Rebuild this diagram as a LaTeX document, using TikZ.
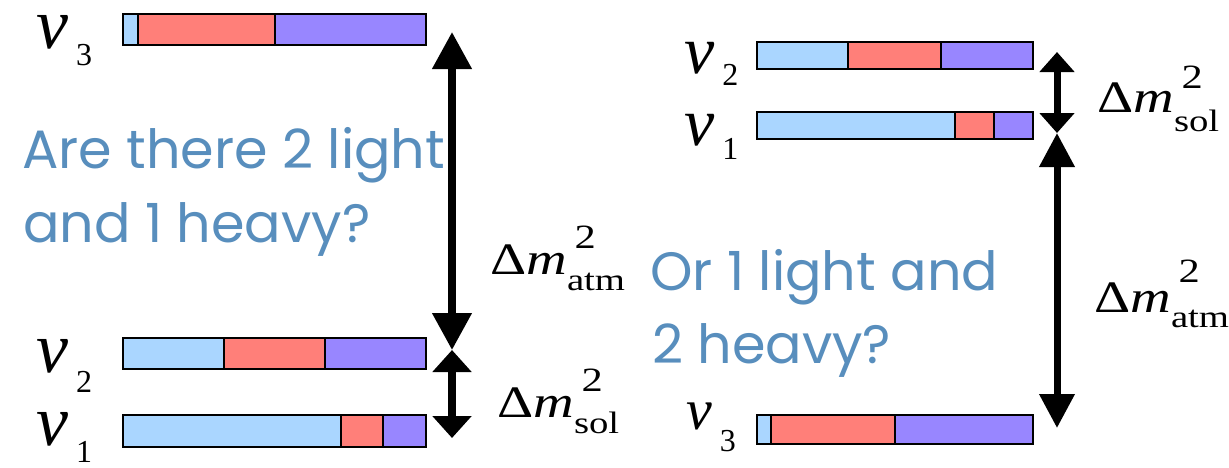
\documentclass[tikz,border=0pt]{standalone}
\usepackage{fontspec}
\setmainfont{Liberation Serif}
\newfontfamily\qfont{Poppins}
\usetikzlibrary{arrows.meta}
\definecolor{nulight}{RGB}{170,214,255}
\definecolor{nusalmon}{RGB}{255,127,121}
\definecolor{nuviolet}{RGB}{152,134,255}
\definecolor{qblue}{RGB}{88,142,189}
\newcommand{\nusym}[3]{{\fontsize{#1}{#1}\selectfont\textit{ν}}\kern8pt\raisebox{-#3pt}{\fontsize{32}{32}\selectfont #2}}
\newcommand{\dmsq}[3]{\scalebox{1.25}[1]{{\fontsize{45}{45}\selectfont Δ\textit{m}}\rlap{\hspace{6pt}\raisebox{#2pt}{\fontsize{34}{34}\selectfont 2}}\raisebox{-#3pt}{\fontsize{31}{31}\selectfont #1}}}

\begin{document}
\begin{tikzpicture}[
    x=1pt, y=-1pt,
    seg/.style={draw=black, line width=2.4pt},
    eseg/.style={seg, fill=nulight},
    museg/.style={seg, fill=nusalmon},
    tauseg/.style={seg, fill=nuviolet},
    nulabel/.style={anchor=base west, inner sep=0pt},
    dmlabel/.style={anchor=base west, inner sep=0pt},
    question/.style={anchor=base west, inner sep=0pt, text=qblue, font=\qfont\fontsize{54}{54}\selectfont},
    atmarrow/.style={line width=7.5pt, {Triangle[length=37pt,width=38pt]}-{Triangle[length=37pt,width=38pt]}},
    solarrow/.style={line width=7.5pt, {Triangle[length=22pt,width=38pt]}-{Triangle[length=22pt,width=38pt]}},
    ratmarrow/.style={line width=7pt, {Triangle[length=34pt,width=34pt]}-{Triangle[length=34pt,width=34pt]}},
    rsolarrow/.style={line width=7pt, {Triangle[length=20pt,width=34pt]}-{Triangle[length=20pt,width=34pt]}}
]
\useasboundingbox (0,0) rectangle (1229,467);

% Normal ordering bars
\filldraw[eseg] (123,14) rectangle (138,45);
\filldraw[museg] (138,14) rectangle (275,45);
\filldraw[tauseg] (275,14) rectangle (426,45);
\filldraw[eseg] (123,338) rectangle (224,369);
\filldraw[museg] (224,338) rectangle (325,369);
\filldraw[tauseg] (325,338) rectangle (426,369);
\filldraw[eseg] (123,415) rectangle (341,447);
\filldraw[museg] (341,415) rectangle (383,447);
\filldraw[tauseg] (383,415) rectangle (426,447);

% Inverted ordering bars
\filldraw[eseg] (757,42) rectangle (848,69);
\filldraw[museg] (848,42) rectangle (941,69);
\filldraw[tauseg] (941,42) rectangle (1033,69);
\filldraw[eseg] (757,112) rectangle (955,139);
\filldraw[museg] (955,112) rectangle (994,139);
\filldraw[tauseg] (994,112) rectangle (1033,139);
\filldraw[eseg] (757,415) rectangle (771,444);
\filldraw[museg] (771,415) rectangle (895,444);
\filldraw[tauseg] (895,415) rectangle (1033,444);

% Mass labels
\node[nulabel] (lnu3) at (36,48) {\nusym{72}{3}{17}};
\node[nulabel] (lnu2) at (36,372) {\nusym{72}{2}{20}};
\node[nulabel] (lnu1) at (36,445) {\nusym{72}{1}{17}};
\node[nulabel] (rnu2) at (684,73) {\nusym{68}{2}{12}};
\node[nulabel] (rnu1) at (684,145) {\nusym{68}{1}{14}};
\node[nulabel] (rnu3) at (686,429) {\nusym{58}{3}{22}};

% Splitting arrows
\coordinate (la1) at (452,32);
\coordinate (la2) at (452,350);
\coordinate (ls2) at (452,438);
\coordinate (rs1) at (1057,52);
\coordinate (rs2) at (1057,133);
\coordinate (ra2) at (1057,428);
\draw[atmarrow] (la1) -- (la2);
\draw[solarrow] (la2) -- (ls2);
\draw[rsolarrow] (rs1) -- (rs2);
\draw[ratmarrow] (rs2) -- (ra2);

% Splitting labels
\node[dmlabel] (latm) at (490,274) {\dmsq{atm}{26}{16}};
\node[dmlabel] (lsol) at (497,417) {\dmsq{sol}{26}{16}};
\node[dmlabel] (rsol) at (1097,112) {\dmsq{sol}{24}{19}};
\node[dmlabel] (ratm) at (1094,312) {\dmsq{atm}{30}{15}};

% Questions
\node[question] (q1a) at (22,168) {Are there 2 light};
\node[question] (q1b) at (23,242) {and 1 heavy?};
\node[question] (q2a) at (650,290) {Or 1 light and};
\node[question] (q2b) at (652,363) {2 heavy?};
\end{tikzpicture}
\end{document}
